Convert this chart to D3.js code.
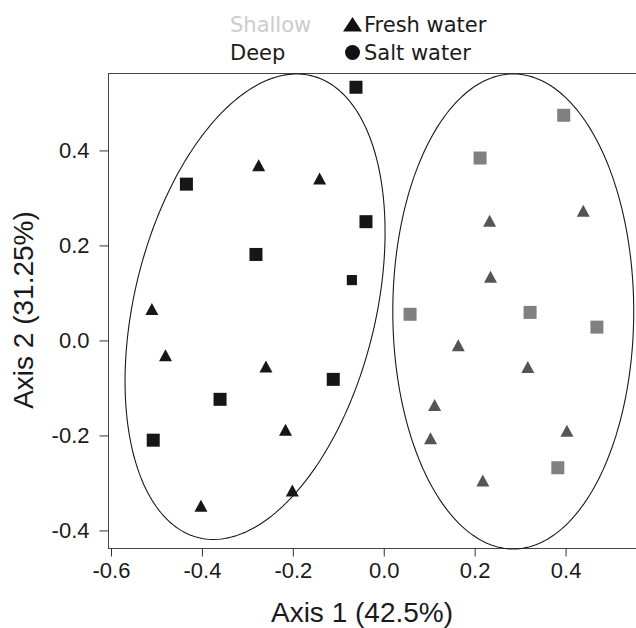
<!DOCTYPE html>
<html lang="en">
  <head>
    <meta charset="UTF-8" />
    <script src="https://d3js.org/d3.v7.min.js"></script>
    <style>
      body {
        margin: 0;
        background: #fff;
      }
      .tick text {
        font-family: "Liberation Sans", Arial, sans-serif;
        font-size: 22px;
        fill: #1a1a1a;
      }
      .tick line {
        stroke: #333;
      }
      .legend text {
        font-family: "DejaVu Sans", sans-serif;
        font-size: 21px;
      }
      .axis-title {
        font-family: "Liberation Sans", Arial, sans-serif;
        font-size: 28px;
        fill: #1a1a1a;
      }
    </style>
    <title>PCoA</title>
  </head>
  <body>
    <svg id="chart" width="636" height="628"></svg>
    <script>
      // ordination scores
      const deepSaltX = [-0.060, -0.433, -0.038, -0.280, -0.069, -0.110, -0.359, -0.506];
      const deepSaltY = [0.532, 0.328, 0.249, 0.180, 0.126, -0.083, -0.125, -0.211];
      const deepSaltWeight = [1, 1, 1, 1, 0.78, 1, 1, 1];

      const deepFreshX = [-0.274, -0.140, -0.509, -0.479, -0.258, -0.215, -0.200, -0.401];
      const deepFreshY = [0.368, 0.340, 0.065, -0.032, -0.056, -0.189, -0.317, -0.349];

      const shallowSaltX = [0.397, 0.213, 0.059, 0.323, 0.470, 0.384];
      const shallowSaltY = [0.473, 0.383, 0.054, 0.058, 0.027, -0.269];

      const shallowFreshX = [0.440, 0.234, 0.236, 0.165, 0.318, 0.113, 0.404, 0.104, 0.219];
      const shallowFreshY = [0.272, 0.251, 0.133, -0.011, -0.057, -0.137, -0.191, -0.207, -0.296];

      // ellipses: centre, half extents, correlation (data units)
      const ellipseGroups = ["Deep", "Shallow"];
      const ellipseCx = [-0.282, 0.286];
      const ellipseCy = [0.07, 0.06];
      const ellipseSx = [0.286, 0.265];
      const ellipseSy = [0.49, 0.5];
      const ellipseR = [0.32, 0.0];

      const xTicks = [-0.6, -0.4, -0.2, 0.0, 0.2, 0.4];
      const yTicks = [-0.4, -0.2, 0.0, 0.2, 0.4];
      const depthLabels = ["Shallow", "Deep"];
      const waterLabels = ["Fresh water", "Salt water"];

      const svg = d3.select("#chart");
      const plot = { left: 108, right: 656, top: 73, bottom: 548 };

      const x = d3.scaleLinear().domain([-0.6055, 0.6]).range([plot.left, plot.right]);
      const y = d3.scaleLinear().domain([-0.438, 0.562]).range([plot.bottom, plot.top]);

      const colour = { Deep: "#161616", Shallow: "#808080" };
      const freshColour = { Deep: "#161616", Shallow: "#555555" };

      // box
      svg
        .append("rect")
        .attr("x", plot.left + 0.5)
        .attr("y", plot.top + 0.5)
        .attr("width", plot.right - plot.left)
        .attr("height", plot.bottom - plot.top)
        .attr("fill", "none")
        .attr("stroke", "#444")
        .attr("stroke-width", 1);

      // axes
      const xAxis = svg
        .append("g")
        .attr("transform", `translate(0.5,${plot.bottom + 0.5})`)
        .call(d3.axisBottom(x).tickValues(xTicks).tickSize(8).tickSizeOuter(0).tickPadding(6).tickFormat(d3.format(".1f")));
      xAxis.select(".domain").remove();

      const yAxis = svg
        .append("g")
        .attr("transform", `translate(${plot.left + 0.5},0.5)`)
        .call(d3.axisLeft(y).tickValues(yTicks).tickSize(9).tickSizeOuter(0).tickPadding(10).tickFormat(d3.format(".1f")));
      yAxis.select(".domain").remove();

      svg.selectAll(".tick text").text((d) => d3.format(".1f")(d).replace("−", "-"));

      svg
        .append("text")
        .attr("class", "axis-title")
        .attr("x", 362)
        .attr("y", 622)
        .attr("text-anchor", "middle")
        .text("Axis 1 (42.5%)");

      svg
        .append("text")
        .attr("class", "axis-title")
        .attr("transform", "translate(33,310) rotate(-90)")
        .attr("text-anchor", "middle")
        .text("Axis 2 (31.25%)");

      // ellipses
      const line = d3
        .line()
        .x((d) => x(d[0]))
        .y((d) => y(d[1]))
        .curve(d3.curveLinearClosed);

      ellipseGroups.forEach(function (g, i) {
        const pts = d3.range(0, 2 * Math.PI, Math.PI / 120).map(function (t) {
          return [
            ellipseCx[i] + ellipseSx[i] * Math.cos(t),
            ellipseCy[i] +
              ellipseSy[i] * (ellipseR[i] * Math.cos(t) + Math.sqrt(1 - ellipseR[i] ** 2) * Math.sin(t)),
          ];
        });
        svg
          .append("path")
          .attr("d", line(pts))
          .attr("fill", "none")
          .attr("stroke", "#1a1a1a")
          .attr("stroke-width", 1.1);
      });

      // points
      const sizeScale = d3.scaleLinear().domain([0, 1]).range([0, 13]);
      const triW = 13,
        triH = 12;
      const triangle = (cx, cy) =>
        `M${cx},${cy - triH / 2}L${cx + triW / 2},${cy + triH / 2}L${cx - triW / 2},${cy + triH / 2}Z`;

      function drawSquares(xs, ys, group, weights) {
        svg
          .append("g")
          .selectAll("rect")
          .data(xs.map((d, i) => ({ x: d, y: ys[i], w: weights ? weights[i] : 1 })))
          .join("rect")
          .attr("x", (d) => x(d.x) - sizeScale(d.w) / 2)
          .attr("y", (d) => y(d.y) - sizeScale(d.w) / 2)
          .attr("width", (d) => sizeScale(d.w))
          .attr("height", (d) => sizeScale(d.w))
          .attr("fill", colour[group]);
      }

      function drawTriangles(xs, ys, group) {
        svg
          .append("g")
          .selectAll("path")
          .data(xs.map((d, i) => ({ x: d, y: ys[i] })))
          .join("path")
          .attr("d", (d) => triangle(x(d.x), y(d.y)))
          .attr("fill", freshColour[group]);
      }

      drawSquares(deepSaltX, deepSaltY, "Deep", deepSaltWeight);
      drawTriangles(deepFreshX, deepFreshY, "Deep");
      drawSquares(shallowSaltX, shallowSaltY, "Shallow");
      drawTriangles(shallowFreshX, shallowFreshY, "Shallow");

      // legend
      const legend = svg.append("g").attr("class", "legend");

      legend
        .selectAll("text.depth")
        .data(depthLabels)
        .join("text")
        .attr("class", "depth")
        .attr("x", 230)
        .attr("y", (d, i) => 32 + i * 28)
        .attr("fill", (d) => (d === "Shallow" ? "#cccccc" : "#1a1a1a"))
        .text((d) => d);

      legend
        .selectAll("text.water")
        .data(waterLabels)
        .join("text")
        .attr("class", "water")
        .attr("x", 364)
        .attr("y", (d, i) => 32 + i * 28)
        .attr("fill", "#1a1a1a")
        .text((d) => d);

      legend
        .append("path")
        .attr("d", "M352.5,17L362,31.5L343,31.5Z")
        .attr("fill", "#111");

      legend
        .append("circle")
        .attr("cx", 352.5)
        .attr("cy", 52.5)
        .attr("r", 7.5)
        .attr("fill", "#111");
    </script>
  </body>
</html>
